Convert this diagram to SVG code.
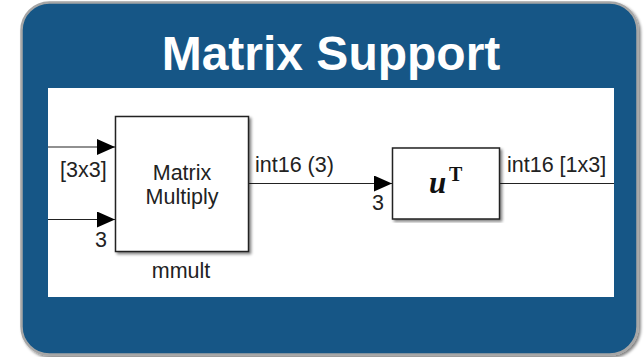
<svg xmlns="http://www.w3.org/2000/svg" width="644" height="357" viewBox="0 0 644 357">
<defs>
<filter id="sh" x="-5%" y="-5%" width="110%" height="110%">
<feGaussianBlur in="SourceAlpha" stdDeviation="1.5"/>
<feOffset dx="2" dy="2"/>
<feComponentTransfer><feFuncA type="linear" slope="0.5"/></feComponentTransfer>
<feMerge><feMergeNode/><feMergeNode in="SourceGraphic"/></feMerge>
</filter>
<marker id="arr" viewBox="0 0 18 16" refX="18" refY="8" markerWidth="18" markerHeight="16" markerUnits="userSpaceOnUse" orient="auto">
<path d="M0,0 L18,8 L0,16 Z" fill="#000"/>
</marker>
</defs>
<style>
.lbl{font-family:"Liberation Sans",Arial,sans-serif;font-size:21.5px;fill:#222}
.blk{fill:#fff;stroke:#222;stroke-width:1.5}
.wire{stroke:#222;stroke-width:1.2;fill:none}
</style>
<rect x="0" y="0" width="644" height="357" fill="#fff"/>
<g id="frame">
<rect x="21.5" y="2.5" width="616" height="352" rx="28" ry="28" fill="#135686" stroke="#a6a6a6" stroke-width="2.5" filter="url(#sh)"/>
<text x="331" y="70" text-anchor="middle" font-family="'Liberation Sans',Arial,sans-serif" font-weight="bold" font-size="48" fill="#fff">Matrix Support</text>
<rect x="48" y="88" width="566" height="209" fill="#fff"/>
</g>
<g id="connectors">
<line class="wire" x1="48" y1="147" x2="115" y2="147" marker-end="url(#arr)"/>
<line class="wire" x1="48" y1="219.5" x2="115" y2="219.5" marker-end="url(#arr)"/>
<line class="wire" x1="249" y1="183.5" x2="392" y2="183.5" marker-end="url(#arr)"/>
<line class="wire" x1="500" y1="183.5" x2="614" y2="183.5"/>
<text class="lbl" x="60" y="177">[3x3]</text>
<text class="lbl" x="95" y="247">3</text>
<text class="lbl" x="255" y="172">int16 (3)</text>
<text class="lbl" x="372" y="210">3</text>
<text class="lbl" x="507" y="172">int16 [1x3]</text>
</g>
<g id="mmult">
<rect class="blk" x="115.5" y="116.5" width="133" height="135" filter="url(#sh)"/>
<text class="lbl" x="182" y="180" text-anchor="middle">Matrix</text>
<text class="lbl" x="182" y="204" text-anchor="middle">Multiply</text>
<text class="lbl" x="181" y="278" text-anchor="middle">mmult</text>
</g>
<g id="transpose">
<rect class="blk" x="392.5" y="148" width="107" height="71" filter="url(#sh)"/>
<text x="429" y="193" font-family="'Liberation Serif','Times New Roman',serif" font-style="italic" font-weight="bold" font-size="31" fill="#111">u</text>
<text x="449" y="181" font-family="'Liberation Serif','Times New Roman',serif" font-weight="bold" font-size="20" fill="#111">T</text>
</g>
</svg>
